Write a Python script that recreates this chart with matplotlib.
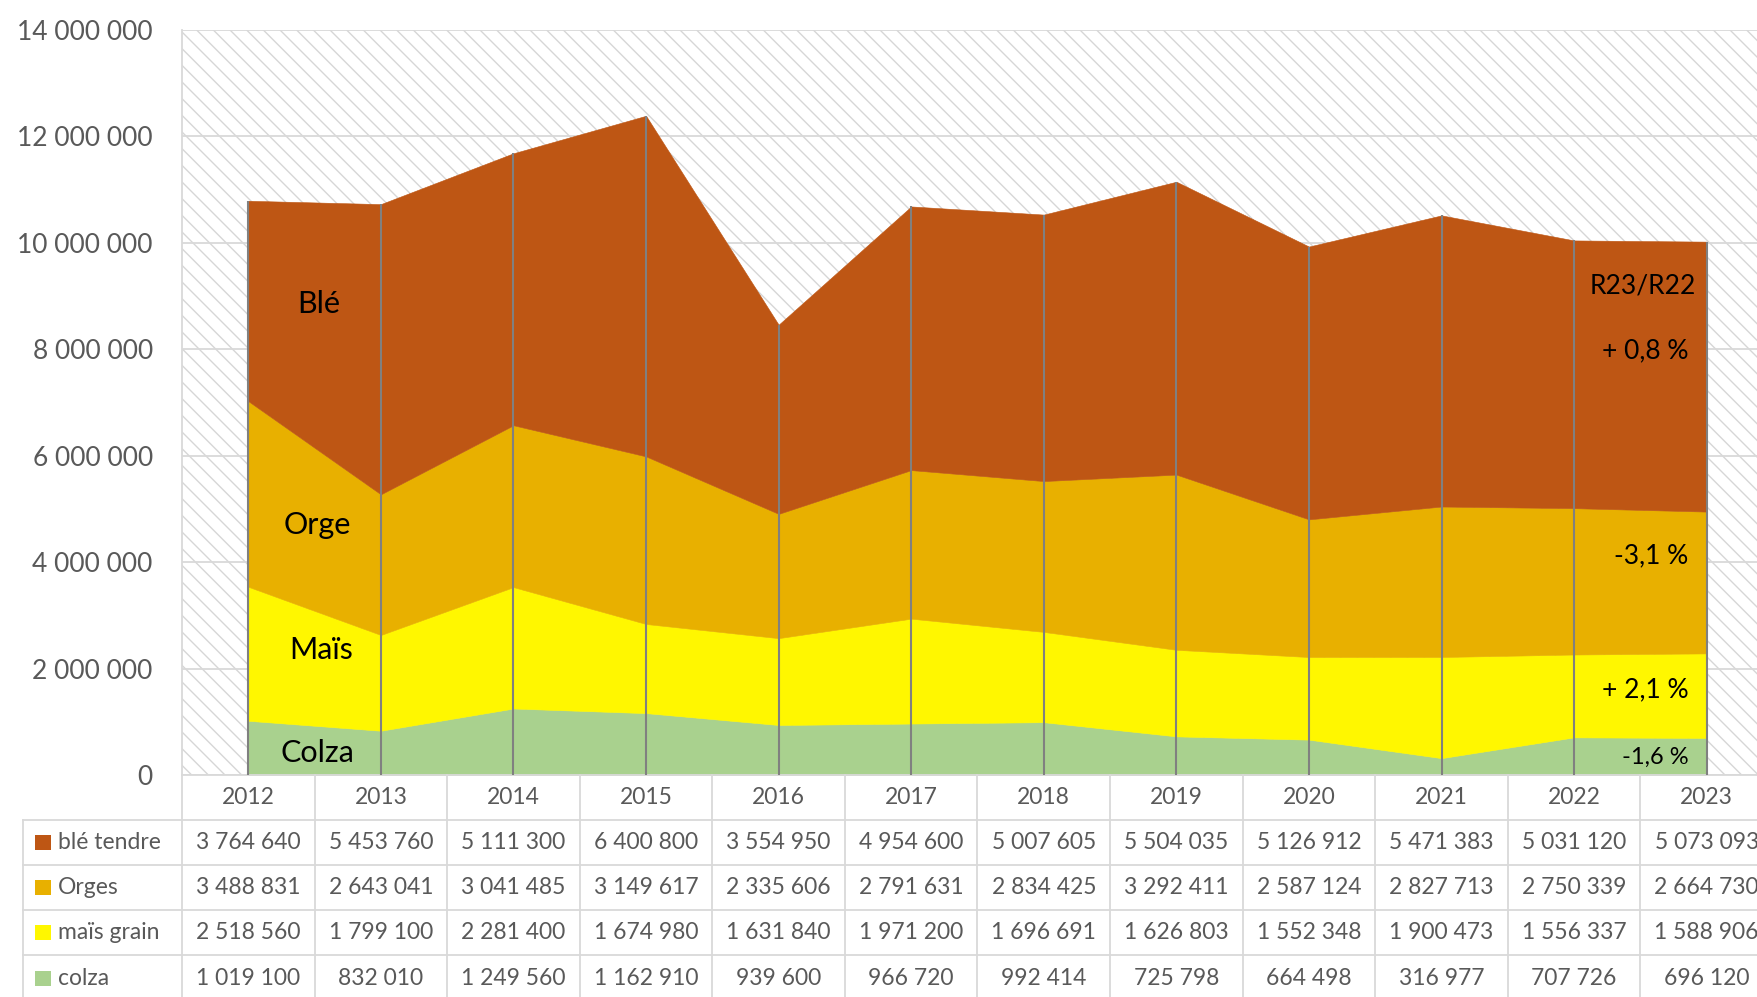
import matplotlib
matplotlib.use('Agg')
import matplotlib.pyplot as plt
from matplotlib.patches import Rectangle
from matplotlib.lines import Line2D
from matplotlib.transforms import blended_transform_factory
import numpy as np

# ---------------- data ----------------
years = ['2012', '2013', '2014', '2015', '2016', '2017', '2018', '2019', '2020', '2021', '2022', '2023']
series_names = ['blé tendre', 'Orges', 'maïs grain', 'colza']
ble = [3764640, 5453760, 5111300, 6400800, 3554950, 4954600, 5007605, 5504035, 5126912, 5471383, 5031120, 5073093]
orges = [3488831, 2643041, 3041485, 3149617, 2335606, 2791631, 2834425, 3292411, 2587124, 2827713, 2750339, 2664730]
mais = [2518560, 1799100, 2281400, 1674980, 1631840, 1971200, 1696691, 1626803, 1552348, 1900473, 1556337, 1588906]
colza = [1019100, 832010, 1249560, 1162910, 939600, 966720, 992414, 725798, 664498, 316977, 707726, 696120]
area_labels = ['Blé', 'Orge', 'Maïs', 'Colza']
evol_title = 'R23/R22'
evol_labels = ['+ 0,8 %', '-3,1 %', '+ 2,1 %', '-1,6 %']
yticks = [0, 2000000, 4000000, 6000000, 8000000, 10000000, 12000000, 14000000]

colors = {'ble': '#BE5614', 'orges': '#E8B000', 'mais': '#FFF700', 'colza': '#A9D18E'}

plt.rcParams['font.family'] = ['Lato', 'DejaVu Sans']
plt.rcParams['hatch.linewidth'] = 1.0

W, H = 1757.0, 997.0
fig = plt.figure(figsize=(W / 100, H / 100), dpi=100)
fig.patch.set_facecolor('white')

ax_left, ax_right, ax_top, ax_bot = 182, 1773, 30, 775
ax = fig.add_axes([ax_left / W, 1 - ax_bot / H, (ax_right - ax_left) / W, (ax_bot - ax_top) / H])

n = len(years)
x = np.arange(n)
grid_c = '#D9D9D9'
text_c = '#595959'

# hatched background
bg = Rectangle((0, 0), 1, 1, transform=ax.transAxes, facecolor='white',
               edgecolor='#D6D6D6', hatch='\\\\', lw=0, zorder=0.1)
ax.add_patch(bg)
ax.patch.set_visible(False)

# stacked areas
stack = [(colza, colors['colza']), (mais, colors['mais']), (orges, colors['orges']), (ble, colors['ble'])]
bottom = np.zeros(n)
for vals, c in stack:
    top = bottom + np.array(vals, dtype=float)
    ax.fill_between(x, bottom, top, facecolor=c, edgecolor=c, lw=0.4, zorder=2)
    bottom = top
totals = bottom

# drop lines
ax.vlines(x, 0, totals, color='#808080', lw=1.5, zorder=3)

ax.set_xlim(-0.5, n - 0.5)
ax.set_ylim(0, 14000000)
ax.set_yticks(yticks)
ax.set_yticklabels(['{:,}'.format(v).replace(',', ' ') for v in yticks])
ax.set_xticks([])
ax.tick_params(axis='y', length=0, pad=21, labelsize=19, labelcolor=text_c)
ax.grid(axis='y', color=grid_c, lw=1.3)
ax.set_axisbelow(True)
for s in ['top', 'right']:
    ax.spines[s].set_visible(False)
for s in ['left', 'bottom']:
    ax.spines[s].set_color(grid_c)
    ax.spines[s].set_linewidth(1.3)

# labels inside the areas
lab_pos = [(0.53, 8850000), (0.52, 4700000), (0.55, 2350000), (0.52, 410000)]
for t, (lx, ly) in zip(area_labels, lab_pos):
    ax.text(lx, ly, t, fontsize=22, color='black', ha='center', va='center', zorder=5)

# evolution annotations
ax.text(10.52, 9190000, evol_title, fontsize=19, color='black', ha='center', va='center', zorder=5)
ev_pos = [7970000, 4120000, 1600000, 340000]
ev_size = [19, 19, 19, 17]
for t, ly, fs in zip(evol_labels, ev_pos, ev_size):
    ax.text(10.86, ly, t, fontsize=fs, color='black', ha='right', va='center', zorder=5)

# ---------------- data table ----------------
def fy(py):
    return 1 - py / H

bt = blended_transform_factory(ax.transData, fig.transFigure)
row_edges = [775, 820, 865, 910, 955, 1001]
for k in range(n + 1):
    xb = k - 0.5
    fig.add_artist(Line2D([xb, xb], [fy(775), fy(1001)], transform=bt, color=grid_c, lw=1.3))
fig.add_artist(Line2D([23 / W, 23 / W], [fy(820), fy(1001)], transform=fig.transFigure, color=grid_c, lw=1.3))
for py in row_edges[1:]:
    fig.add_artist(Line2D([23 / W, 1.0], [fy(py), fy(py)], transform=fig.transFigure, color=grid_c, lw=1.3))

# header (years)
for i, yv in enumerate(years):
    fig.text(i, fy(797.5), yv, transform=bt, ha='center', va='center', fontsize=16.5, color=text_c)

table_rows = [ble, orges, mais, colza]
key_cols = [colors['ble'], colors['orges'], colors['mais'], colors['colza']]
for r, (name, vals, kc) in enumerate(zip(series_names, table_rows, key_cols)):
    cy = (row_edges[r + 1] + row_edges[r + 2]) / 2
    fig.add_artist(Rectangle((35 / W, fy(cy + 7.5)), 16 / W, 15 / H, transform=fig.transFigure,
                             facecolor=kc, edgecolor='none'))
    fig.text(58 / W, fy(cy), name, ha='left', va='center', fontsize=16.5, color=text_c)
    for i, v in enumerate(vals):
        fig.text(i, fy(cy), '{:,}'.format(v).replace(',', ' '), transform=bt,
                 ha='center', va='center', fontsize=16.5, color=text_c)

fig.savefig('out.png', dpi=100)
